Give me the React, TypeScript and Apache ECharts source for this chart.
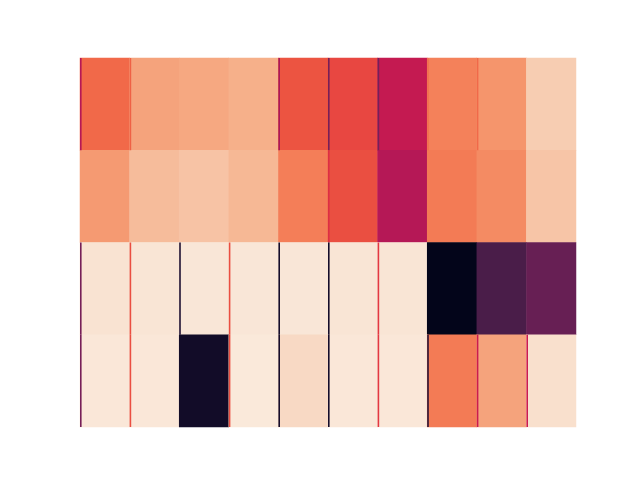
import React, { useEffect, useRef } from "react";
import * as echarts from "echarts";

const columns = ["C1", "C2", "C3", "C4", "C5", "C6", "C7", "C8", "C9", "C10"];
const rows = ["R1", "R2", "R3", "R4"];

const row1 = [0.68, 0.82, 0.83, 0.848, 0.632, 0.608, 0.484, 0.74, 0.788, 0.92];
const row2 = [0.8, 0.878, 0.896, 0.867, 0.733, 0.623, 0.448, 0.725, 0.765, 0.9];
const row3 = [0.98, 0.985, 0.988, 0.988, 0.988, 0.985, 0.985, 0.0, 0.194, 0.264];
const row4 = [0.99, 0.99, 0.043, 0.995, 0.953, 0.99, 0.99, 0.725, 0.82, 0.97];

// thin edge stripes at the left edge of some cells: [column, row, value]
const stripes: [number, number, number][] = [
  [0, 0, 0.45], [1, 0, 0.66], [4, 0, 0.42], [5, 0, 0.3], [6, 0, 0.3], [7, 0, 0.7], [8, 0, 0.68],
  [5, 1, 0.56],
  [0, 2, 0.3], [1, 2, 0.62], [2, 2, 0.08], [3, 2, 0.62], [4, 2, 0.05], [5, 2, 0.05], [6, 2, 0.58],
  [0, 3, 0.3], [1, 3, 0.62], [3, 3, 0.62], [4, 3, 0.05], [5, 3, 0.05], [6, 3, 0.58], [7, 3, 0.1], [8, 3, 0.5], [9, 3, 0.5],
];

const rocket = [
  "#03051a", "#1c1032", "#35193e", "#521e4d", "#701f57", "#8e1d5b", "#ad1759", "#cb1b4f",
  "#e13342", "#ee5a41", "#f37651", "#f5946b", "#f6b48f", "#f7d0b7", "#faebdd",
];

export default function App() {
  const ref = useRef<HTMLDivElement>(null);
  useEffect(() => {
    if (!ref.current) return;
    const chart = echarts.init(ref.current, null, { renderer: "svg" });
    const grid = [row1, row2, row3, row4];
    const data: [number, number, number][] = [];
    grid.forEach((r, yi) => r.forEach((v, xi) => data.push([xi, yi, v])));
    chart.setOption({
      animation: false,
      backgroundColor: "#ffffff",
      grid: { left: 80, top: 58, width: 496, height: 369 },
      xAxis: { type: "category", data: columns, show: false },
      yAxis: { type: "category", data: rows, inverse: true, show: false },
      visualMap: { show: false, min: 0, max: 1, dimension: 2, seriesIndex: [0, 1], inRange: { color: rocket } },
      series: [
        {
          type: "heatmap",
          data,
          itemStyle: { borderWidth: 0 },
          emphasis: { disabled: true },
        },
        {
          type: "custom",
          data: stripes,
          silent: true,
          renderItem: (params: any, api: any) => {
            const pt = api.coord([api.value(0), api.value(1)]);
            const size = api.size([1, 1]);
            return {
              type: "rect",
              shape: { x: pt[0] - size[0] / 2, y: pt[1] - size[1] / 2, width: 1.6, height: size[1] },
              style: { fill: api.visual("color") },
            };
          },
        },
      ],
    });
    return () => chart.dispose();
  }, []);
  return <div ref={ref} style={{ position: "fixed", left: 0, top: 0, width: 640, height: 480 }} />;
}
